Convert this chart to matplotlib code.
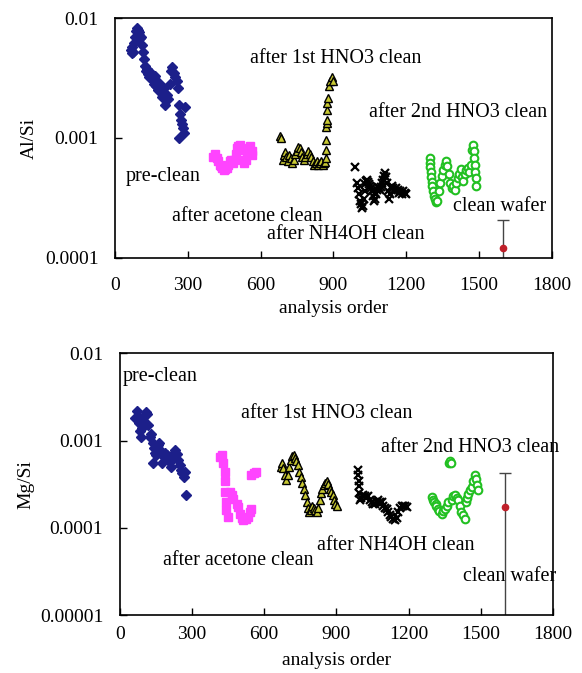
import matplotlib
matplotlib.use("Agg")
import matplotlib.pyplot as plt

plt.rcParams['font.family'] = ['Liberation Serif', 'DejaVu Serif']
plt.rcParams['font.size'] = 14

# ---------------- Al/Si (top panel) ----------------
al_pre_x = [64, 68, 70, 72, 76, 80, 84, 88, 92, 96, 100, 104, 108, 112, 116, 120, 124, 128, 132,
            136, 140, 146, 152, 158, 164, 170, 176, 182, 188, 194, 200, 206, 212, 218, 224, 230,
            236, 242, 248, 254, 258, 262, 264, 266, 270, 274, 278, 282, 288]
al_pre_y = [0.0054, 0.0058, 0.0051, 0.0052, 0.0062, 0.0070, 0.0078, 0.0082, 0.0080, 0.0076, 0.0072,
            0.0068, 0.0070, 0.0060, 0.0052, 0.0046, 0.0040, 0.0036, 0.0038, 0.0034, 0.0032, 0.0035,
            0.0031, 0.0028, 0.0033, 0.0027, 0.0025, 0.0029, 0.0024, 0.0022, 0.0026, 0.0019, 0.0023,
            0.0021, 0.0028, 0.0036, 0.0039, 0.0035, 0.0032, 0.0030, 0.0026, 0.0019, 0.0010, 0.0016,
            0.0014, 0.0013, 0.0012, 0.0011, 0.0018]

al_ace_x = [405, 412, 418, 424, 430, 436, 442, 448, 454, 460, 466, 472, 478, 484, 490, 496, 502,
            508, 514, 520, 526, 532, 538, 544, 550, 556, 562, 566]
al_ace_y = [0.00070, 0.00074, 0.00068, 0.00064, 0.00060, 0.00058, 0.00056, 0.00054, 0.00055,
            0.00056, 0.00060, 0.00064, 0.00066, 0.00062, 0.00066, 0.00074, 0.00082, 0.00086,
            0.00088, 0.00080, 0.00066, 0.00062, 0.00066, 0.00074, 0.00082, 0.00086, 0.00078, 0.00072]

al_h1_x = [680, 684, 692, 696, 700, 706, 712, 718, 724, 730, 736, 742, 748, 754, 760, 766, 772,
           778, 784, 790, 796, 802, 808, 814, 820, 826, 832, 838, 844, 850, 856, 862, 866, 868,
           869, 870, 871, 872, 873, 874, 875, 876, 880, 886, 892, 896]
al_h1_y = [0.00104, 0.00100, 0.00066, 0.00072, 0.00076, 0.00070, 0.00064, 0.00072, 0.00068,
           0.00062, 0.00066, 0.00074, 0.00078, 0.00084, 0.00082, 0.00076, 0.00070, 0.00066,
           0.00070, 0.00074, 0.00078, 0.00074, 0.00070, 0.00064, 0.00060, 0.00062, 0.00064,
           0.00060, 0.00062, 0.00064, 0.00060, 0.00062, 0.00063, 0.00068, 0.00079, 0.00096,
           0.00124, 0.00133, 0.00140, 0.00170, 0.00195, 0.00215, 0.00270, 0.00300, 0.00320, 0.00300]

al_nh_x = [988, 996, 1000, 1004, 1008, 1012, 1016, 1020, 1024, 1028, 1032, 1036, 1040, 1044, 1048,
           1052, 1056, 1060, 1064, 1068, 1072, 1076, 1080, 1084, 1088, 1092, 1096, 1100, 1104,
           1108, 1112, 1116, 1120, 1124, 1128, 1132, 1136, 1140, 1146, 1152, 1158, 1164, 1170,
           1176, 1182, 1188, 1194, 1200]
al_nh_y = [0.00057, 0.00042, 0.00038, 0.00034, 0.00030, 0.00028, 0.00026, 0.00027, 0.00031,
           0.00036, 0.00041, 0.00044, 0.00045, 0.00043, 0.00041, 0.00040, 0.00038, 0.00036,
           0.00033, 0.00030, 0.00031, 0.00034, 0.00037, 0.00039, 0.00038, 0.00037, 0.00039,
           0.00042, 0.00045, 0.00048, 0.00051, 0.00047, 0.00042, 0.00036, 0.00031, 0.00034,
           0.00038, 0.00040, 0.00038, 0.00036, 0.00038, 0.00037, 0.00035, 0.00036, 0.00034,
           0.00036, 0.00035, 0.00034]

al_h2_x = [1296, 1298, 1300, 1302, 1304, 1306, 1308, 1312, 1316, 1320, 1324, 1328, 1334, 1340,
           1346, 1352, 1358, 1364, 1370, 1376, 1382, 1388, 1394, 1400, 1406, 1412, 1418, 1424,
           1430, 1436, 1442, 1448, 1454, 1460, 1466, 1472, 1476, 1478, 1480, 1482, 1484, 1486, 1488]
al_h2_y = [0.00068, 0.00062, 0.00057, 0.00052, 0.00047, 0.00043, 0.00040, 0.00036, 0.00033,
           0.00031, 0.00029, 0.00030, 0.00036, 0.00042, 0.00048, 0.00054, 0.00060, 0.00064,
           0.00058, 0.00050, 0.00042, 0.00038, 0.00040, 0.00037, 0.00042, 0.00046, 0.00050,
           0.00055, 0.00047, 0.00044, 0.00050, 0.00054, 0.00056, 0.00052, 0.00060, 0.00080,
           0.00088, 0.00078, 0.00068, 0.00060, 0.00052, 0.00046, 0.00040]

al_cw_x = [1600]
al_cw_y = [0.000121]
al_cw_hi = [0.000205]
al_cw_lo = [1e-7]

# ---------------- Mg/Si (bottom panel) ----------------
mg_pre_x = [64, 70, 74, 78, 82, 86, 90, 96, 102, 108, 114, 118, 124, 130, 136, 137, 140, 146, 152,
            158, 164, 170, 176, 182, 188, 194, 200, 206, 212, 218, 224, 230, 236, 242, 248, 254,
            260, 266, 272, 274]
mg_pre_y = [0.0018, 0.0022, 0.0019, 0.0016, 0.0013, 0.0011, 0.0014, 0.0017, 0.0019, 0.0021,
            0.0020, 0.0015, 0.0011, 0.0012, 0.00095, 0.00055, 0.00082, 0.00072, 0.00068, 0.00088,
            0.00093, 0.00076, 0.00055, 0.00065, 0.00072, 0.00068, 0.00060, 0.00058, 0.00050,
            0.00060, 0.00072, 0.00078, 0.00070, 0.00060, 0.00052, 0.00046, 0.00042, 0.00038,
            0.00044, 0.00024]

mg_ace_x = [418, 423, 430, 436, 436, 436, 441, 443, 450, 457, 464, 471, 485, 492, 499, 506, 513,
            523, 533, 540, 547, 547, 556, 565]
mg_ace_y = [0.00065, 0.00068, 0.00055, 0.00044, 0.00034, 0.00026, 0.00020, 0.000159, 0.000133,
            0.00026, 0.00024, 0.000216, 0.00019, 0.000174, 0.000146, 0.000130, 0.000123,
            0.000128, 0.000133, 0.000150, 0.000166, 0.00040, 0.00042, 0.00044]

mg_h1_x = [670, 675, 680, 686, 692, 698, 704, 710, 716, 722, 728, 734, 740, 746, 752, 758, 764,
           770, 776, 782, 788, 794, 800, 806, 812, 818, 824, 830, 836, 842, 848, 854, 860, 866,
           872, 878, 884, 890, 896, 902]
mg_h1_y = [0.00050, 0.00056, 0.00048, 0.00040, 0.00035, 0.00040, 0.00050, 0.00060, 0.00066,
           0.00068, 0.00064, 0.00058, 0.00052, 0.00044, 0.00038, 0.00033, 0.00028, 0.00024,
           0.00020, 0.00017, 0.00015, 0.00016, 0.00018, 0.00017, 0.00016, 0.00015, 0.00017,
           0.00021, 0.00025, 0.00028, 0.00031, 0.00033, 0.00034, 0.00032, 0.00028, 0.00026,
           0.00024, 0.00021, 0.00019, 0.00018]

mg_nh_x = [990, 991, 992, 994, 996, 998, 1004, 1011, 1018, 1025, 1032, 1039, 1046, 1053, 1060,
           1067, 1074, 1081, 1088, 1095, 1102, 1109, 1116, 1122, 1129, 1136, 1143, 1150, 1157,
           1164, 1171, 1178, 1185, 1192]
mg_nh_y = [0.00046, 0.00040, 0.00034, 0.00030, 0.00025, 0.00021, 0.00022, 0.00024, 0.00023,
           0.00022, 0.00023, 0.00021, 0.00020, 0.00019, 0.00019, 0.00020, 0.00021, 0.00020,
           0.00020, 0.00018, 0.00017, 0.000166, 0.00015, 0.00014, 0.000133, 0.000126, 0.000122,
           0.00013, 0.000152, 0.00017, 0.00018, 0.00018, 0.000178, 0.000174]

mg_h2_x = [1296, 1300, 1306, 1312, 1316, 1322, 1328, 1337, 1344, 1351, 1358, 1365, 1368, 1372,
           1376, 1380, 1386, 1393, 1400, 1406, 1413, 1420, 1427, 1434, 1438, 1442, 1448, 1455,
           1462, 1469, 1476, 1479, 1483, 1489]
mg_h2_y = [0.000226, 0.00021, 0.00020, 0.00019, 0.00018, 0.000165, 0.000155, 0.000146, 0.000155,
           0.000166, 0.00018, 0.00020, 0.00055, 0.00058, 0.00055, 0.00021, 0.00023, 0.000237,
           0.00022, 0.000207, 0.00018, 0.000152, 0.00014, 0.000128, 0.00020, 0.00022, 0.000247,
           0.00027, 0.000295, 0.00034, 0.00040, 0.00036, 0.00031, 0.00027]

mg_cw_x = [1600]
mg_cw_y = [0.000172]
mg_cw_hi = [0.00042]
mg_cw_lo = [1e-7]

xticks = [0, 300, 600, 900, 1200, 1500, 1800]

fig = plt.figure(figsize=(5.82, 6.73), dpi=100)
ax1 = fig.add_axes([0.198, 0.617, 0.750, 0.356])
ax2 = fig.add_axes([0.206, 0.086, 0.744, 0.389])

ms = 5.5


def draw(ax, pre, ace, h1, nh, h2, cw, xpad, xlabpad):
    ax.plot(pre[0], pre[1], 'D', ls='none', color='#1c1f8a', ms=ms - 0.5)
    ax.plot(ace[0], ace[1], 's', ls='none', color='#ff44ff', ms=ms)
    ax.plot(h1[0], h1[1], '^', ls='none', mfc='#c8c832', mec='black', mew=1.0, ms=ms + 0.5)
    ax.plot(nh[0], nh[1], 'x', ls='none', color='black', ms=ms, mew=1.6)
    ax.plot(h2[0], h2[1], 'o', ls='none', mfc='white', mec='#22c022', mew=1.5, ms=ms)
    x, y, hi, lo = cw
    err = [[y[i] - lo[i] for i in range(len(y))], [hi[i] - y[i] for i in range(len(y))]]
    ax.errorbar(x, y, yerr=err, fmt='o', color='#c0202a', ms=4.5,
                ecolor='#444444', elinewidth=1, capsize=4, capthick=1)
    ax.set_yscale('log')
    ax.set_xlim(0, 1800)
    ax.set_xticks(xticks)
    ax.set_xticklabels([str(t) for t in xticks])
    ax.minorticks_off()
    ax.tick_params(direction='in', length=5, width=1, labelsize=14)
    ax.tick_params(axis='y', pad=12)
    ax.tick_params(axis='x', pad=xpad)
    for s in ax.spines.values():
        s.set_linewidth(1.2)
    ax.set_xlabel('analysis order', fontsize=14, labelpad=xlabpad)


draw(ax1, (al_pre_x, al_pre_y), (al_ace_x, al_ace_y), (al_h1_x, al_h1_y),
     (al_nh_x, al_nh_y), (al_h2_x, al_h2_y), (al_cw_x, al_cw_y, al_cw_hi, al_cw_lo), 14, 4)
ax1.set_ylim(1e-4, 1e-2)
ax1.set_yticks([1e-4, 1e-3, 1e-2])
ax1.set_yticklabels(['0.0001', '0.001', '0.01'])
ax1.set_ylabel('Al/Si', fontsize=14, labelpad=5)

draw(ax2, (mg_pre_x, mg_pre_y), (mg_ace_x, mg_ace_y), (mg_h1_x, mg_h1_y),
     (mg_nh_x, mg_nh_y), (mg_h2_x, mg_h2_y), (mg_cw_x, mg_cw_y, mg_cw_hi, mg_cw_lo), 8, 6)
ax2.set_ylim(1e-5, 1e-2)
ax2.set_yticks([1e-5, 1e-4, 1e-3, 1e-2])
ax2.set_yticklabels(['0.00001', '0.0001', '0.001', '0.01'])
ax2.set_ylabel('Mg/Si', fontsize=14, labelpad=4)

fs = 14.5
ax1.text(198, 0.00048, 'pre-clean', ha='center', va='center', fontsize=fs)
ax1.text(544, 0.00022, 'after acetone clean', ha='center', va='center', fontsize=fs)
ax1.text(910, 0.0046, 'after 1st HNO3 clean', ha='center', va='center', fontsize=fs)
ax1.text(1413, 0.00162, 'after 2nd HNO3 clean', ha='center', va='center', fontsize=fs)
ax1.text(951, 0.000155, 'after NH4OH clean', ha='center', va='center', fontsize=fs)
ax1.text(1586, 0.000266, 'clean wafer', ha='center', va='center', fontsize=fs)

ax2.text(166, 0.00546, 'pre-clean', ha='center', va='center', fontsize=fs)
ax2.text(860, 0.00206, 'after 1st HNO3 clean', ha='center', va='center', fontsize=fs)
ax2.text(1455, 0.00084, 'after 2nd HNO3 clean', ha='center', va='center', fontsize=fs)
ax2.text(1147, 6.2e-5, 'after NH4OH clean', ha='center', va='center', fontsize=fs)
ax2.text(490, 4.2e-5, 'after acetone clean', ha='center', va='center', fontsize=fs)
ax2.text(1621, 2.8e-5, 'clean wafer', ha='center', va='center', fontsize=fs)

fig.savefig('out.png', dpi=100)
